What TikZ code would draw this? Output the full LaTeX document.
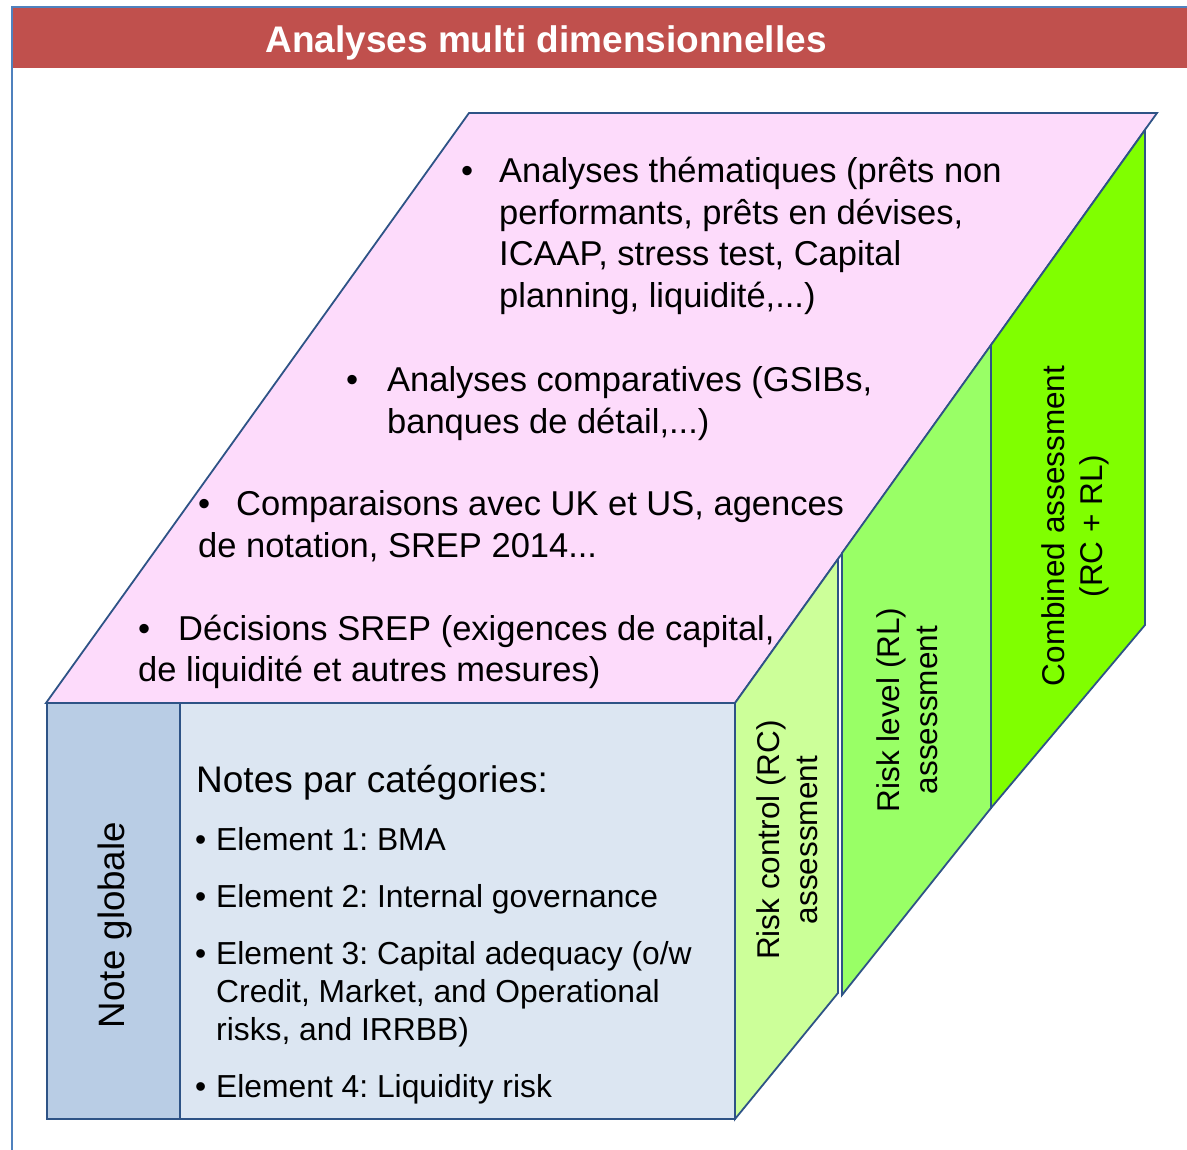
\documentclass[tikz,border=0pt]{standalone}
\usepackage{fontspec}
\setmainfont{Liberation Sans}
\frenchspacing
\definecolor{framecol}{HTML}{4F81BD}
\definecolor{titlered}{HTML}{C0504D}
\definecolor{edgecol}{HTML}{2E5386}
\definecolor{pinkface}{HTML}{FDDBFB}
\definecolor{frontlight}{HTML}{DCE6F2}
\definecolor{frontdark}{HTML}{B9CDE5}
\definecolor{slabA}{HTML}{CCFF99}
\definecolor{slabB}{HTML}{99FF66}
\definecolor{slabC}{HTML}{80FF00}
\tikzset{
  face/.style={draw=edgecol, line width=1.8pt, line join=miter},
  pinktxt/.style={anchor=base west, inner sep=0pt, align=left, font=\fontsize{34.5}{41.5}\selectfont},
  fronttxt/.style={anchor=base west, inner sep=0pt, align=left, font=\fontsize{31.8}{38.2}\selectfont},
  slabtxt/.style={rotate=90, inner sep=0pt, align=center, font=\fontsize{31.5}{38}\selectfont},
}
\begin{document}
\begin{tikzpicture}[x=1pt,y=-1pt]
\useasboundingbox (0,0) rectangle (1187,1150);
% frame and title
\fill[titlered] (12,8) rectangle (1187,68);
\draw[framecol, line width=1.5pt] (12,1150) -- (12,7) -- (1187,7);
\node[anchor=base, inner sep=0pt, text=white, font=\fontsize{37}{40}\selectfont\bfseries] (title) at (546,53) {Analyses multi dimensionnelles};
% top face
\filldraw[face, fill=pinkface] (46,703) -- (469,113) -- (1157,113) -- (735,703) -- cycle;
% front faces
\filldraw[face, fill=frontdark] (47,703) rectangle (180,1119);
\filldraw[face, fill=frontlight] (180,703) rectangle (735,1119);
% side slabs
\filldraw[face, fill=slabA] (735,703) -- (838,559) -- (838,993) -- (735,1119) -- cycle;
\filldraw[face, fill=slabB] (842,553) -- (991,345) -- (991,808) -- (842,995) -- cycle;
\filldraw[face, fill=slabC] (991,345) -- (1145,130) -- (1145,625) -- (991,808) -- cycle;
% pink face texts (multi-line nodes: base = last line)
\node[pinktxt] (b1) at (461,183) {•};
\node[pinktxt] (t1) at (499,307.5) {Analyses thématiques (prêts non\\performants, prêts en dévises,\\ICAAP, stress test, Capital\\planning, liquidité,...)};
\node[pinktxt] (b2) at (346,392) {•};
\node[pinktxt] (t2) at (387,433.5) {Analyses comparatives (GSIBs,\\banques de détail,...)};
\node[pinktxt] (b3) at (198,515) {•};
\node[pinktxt] (t3) at (236,515) {Comparaisons avec UK et US, agences};
\node[pinktxt] (t3b) at (198,557) {de notation, SREP 2014...};
\node[pinktxt] (b4) at (138,640) {•};
\node[pinktxt] (t4) at (178,640) {Décisions SREP (exigences de capital,};
\node[pinktxt] (t4b) at (138,681) {de liquidité et autres mesures)};
% front texts
\node[rotate=90, anchor=base, inner sep=0pt, font=\fontsize{36.7}{40}\selectfont] (glob) at (124,925) {Note globale};
\node[anchor=base west, inner sep=0pt, font=\fontsize{37}{44}\selectfont] (cat) at (196,792) {Notes par catégories:};
\node[fronttxt] (e1b) at (195,850) {•};
\node[fronttxt] (e1) at (216,850) {Element 1: BMA};
\node[fronttxt] (e2b) at (195,907) {•};
\node[fronttxt] (e2) at (216,907) {Element 2: Internal governance};
\node[fronttxt] (e3b) at (195,964) {•};
\node[fronttxt] (e3) at (216,1040.4) {Element 3: Capital adequacy (o/w\\Credit, Market, and Operational\\risks, and IRRBB)};
\node[fronttxt] (e4b) at (195,1097) {•};
\node[fronttxt] (e4) at (216,1097) {Element 4: Liquidity risk};
% slab texts
\node[slabtxt] (rc) at (787,840) {Risk control (RC)\\assessment};
\node[slabtxt] (rl) at (907,710) {Risk level (RL)\\assessment};
\node[slabtxt] (comb) at (1075,526) {Combined assessment\\(RC + RL)};
\end{tikzpicture}
\end{document}
